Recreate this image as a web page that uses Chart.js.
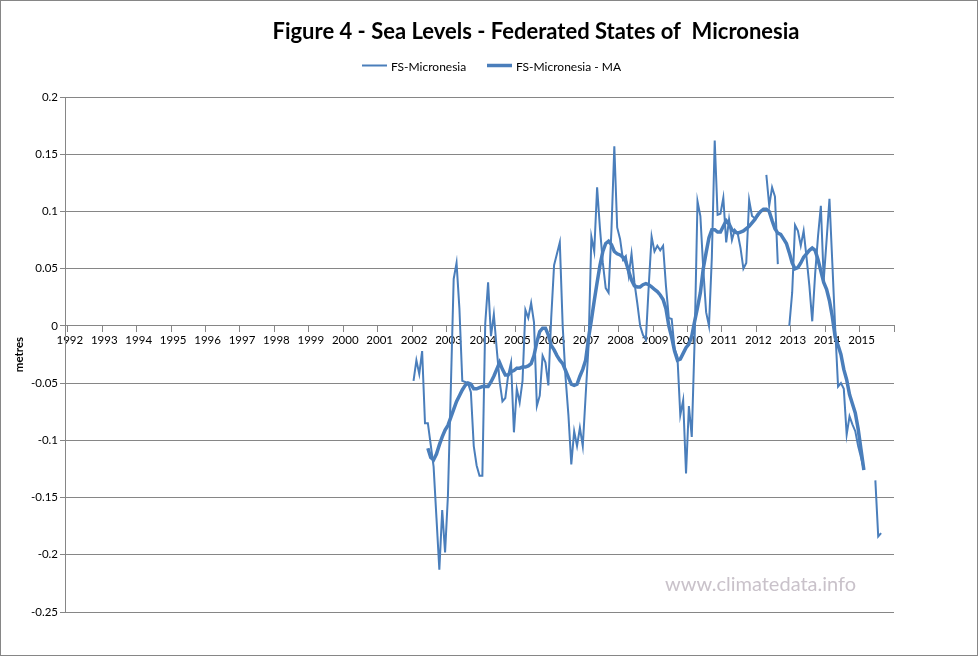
<!DOCTYPE html>
<html>
<head>
<meta charset="utf-8">
<script src="https://cdn.jsdelivr.net/npm/chart.js@4.4.0/dist/chart.umd.min.js"></script>
<style>
  body { margin: 0; background: #fff; }
  canvas { display: block; }
</style>
</head>
<body>
<canvas id="seaLevelChart" width="978" height="656"></canvas>
<script>
/* Monthly sea level (metres), first value = January 2002, null = no data */
const startYear = 2002;

const seaLevel = [
  -0.048, -0.030, -0.042, -0.022, -0.085, -0.085, -0.104, -0.123, -0.168, -0.213, -0.161, -0.198,
  -0.148, -0.055, 0.041, 0.055, 0.015, -0.048, -0.049, -0.050, -0.058, -0.105, -0.122, -0.131,
  -0.131, 0.002, 0.038, -0.009, 0.010, -0.020, -0.048, -0.066, -0.063, -0.043, -0.032, -0.093,
  -0.055, -0.067, -0.048, 0.014, 0.007, 0.020, 0.003, -0.070, -0.061, -0.026, -0.032, -0.052,
  0.007, 0.053, 0.063, 0.073, 0.000, -0.045, -0.078, -0.121, -0.092, -0.105, -0.089, -0.105,
  -0.061, -0.018, 0.078, 0.065, 0.121, 0.085, 0.055, 0.033, 0.029, 0.084, 0.157, 0.086,
  0.076, 0.058, 0.061, 0.044, 0.063, 0.038, 0.020, 0.000, -0.008, -0.012, 0.035, 0.078,
  0.065, 0.070, 0.066, 0.070, 0.035, 0.007, 0.006, -0.020, -0.027, -0.078, -0.065, -0.129,
  -0.070, -0.097, -0.012, 0.109, 0.096, 0.050, 0.012, 0.000, 0.060, 0.162, 0.097, 0.098,
  0.112, 0.073, 0.093, 0.075, 0.084, 0.081, 0.068, 0.050, 0.055, 0.110, 0.096, 0.094,
  0.096, 0.100, null, 0.132, 0.105, 0.121, 0.113, 0.054, null, null, null, 0.000,
  0.029, 0.088, 0.083, 0.070, 0.083, 0.060, 0.035, 0.004, 0.045, 0.078, 0.105, 0.040,
  0.075, 0.111, 0.055, -0.002, -0.053, -0.050, -0.055, -0.095, -0.079, -0.086, -0.092, -0.105,
  -0.115, -0.126, null, null, null, -0.135, -0.184, -0.181
];

/* Moving average, same months */
const seaLevelMA = [
  null, null, null, null, null, -0.107, -0.115, -0.117, -0.112, -0.104, -0.097, -0.091,
  -0.087, -0.080, -0.073, -0.066, -0.061, -0.056, -0.052, -0.050, -0.051, -0.055, -0.055, -0.054,
  -0.053, -0.053, -0.053, -0.049, -0.044, -0.038, -0.032, -0.038, -0.043, -0.043, -0.040, -0.039,
  -0.037, -0.037, -0.036, -0.036, -0.035, -0.033, -0.026, -0.014, -0.005, -0.002, -0.002, -0.008,
  -0.017, -0.021, -0.026, -0.030, -0.033, -0.039, -0.045, -0.051, -0.052, -0.051, -0.044, -0.038,
  -0.030, -0.011, 0.005, 0.022, 0.038, 0.053, 0.065, 0.072, 0.074, 0.071, 0.065, 0.063,
  0.062, 0.060, 0.056, 0.048, 0.040, 0.035, 0.034, 0.034, 0.036, 0.037, 0.036, 0.034,
  0.032, 0.030, 0.027, 0.023, 0.015, 0.000, -0.010, -0.022, -0.030, -0.029, -0.024, -0.019,
  -0.016, -0.009, 0.004, 0.016, 0.029, 0.050, 0.064, 0.077, 0.084, 0.084, 0.082, 0.082,
  0.087, 0.092, 0.089, 0.084, 0.082, 0.081, 0.082, 0.083, 0.085, 0.087, 0.090, 0.093,
  0.097, 0.100, 0.102, 0.102, 0.100, 0.092, 0.085, 0.081, 0.080, 0.076, 0.072, 0.064,
  0.055, 0.050, 0.051, 0.055, 0.060, 0.063, 0.066, 0.068, 0.066, 0.058, 0.048, 0.038,
  0.032, 0.022, 0.008, -0.010, -0.017, -0.025, -0.038, -0.047, -0.060, -0.068, -0.076, -0.090,
  -0.108, -0.126, null, null, null, null, null, null
];

const yearLabels = [1992, 1993, 1994, 1995, 1996, 1997, 1998, 1999, 2000, 2001, 2002, 2003,
  2004, 2005, 2006, 2007, 2008, 2009, 2010, 2011, 2012, 2013, 2014, 2015];
const axisStart = 1991 + 11 / 12;   // axis opens one month before 1992
const axisEnd = 2016;

const titleText = 'Figure 4 - Sea Levels - Federated States of  Micronesia';
const watermark = 'www.climatedata.info';

const lineColor = '#4a7ebb';
const gridColor = '#868686';
const fontName = 'Lato, "Open Sans", sans-serif';

/* month index -> decimal year, point sits in the middle of its month */
const toPoints = (values) => values.map((v, i) => ({ x: startYear + (i + 0.5) / 12, y: v }));

/* Title, legend, watermark and outer frame */
const decorations = {
  id: 'decorations',
  afterDraw(chart) {
    const ctx = chart.ctx;
    ctx.save();

    ctx.fillStyle = '#000';
    ctx.font = 'bold 22px ' + fontName;
    ctx.textAlign = 'center';
    ctx.textBaseline = 'alphabetic';
    ctx.fillText(titleText, 536, 39);

    const legendX = [362, 487];
    ctx.font = '12px ' + fontName;
    ctx.textAlign = 'left';
    chart.data.datasets.forEach((ds, i) => {
      ctx.strokeStyle = ds.borderColor;
      ctx.lineWidth = ds.borderWidth;
      ctx.beginPath();
      ctx.moveTo(legendX[i], 65.5);
      ctx.lineTo(legendX[i] + 25, 65.5);
      ctx.stroke();
      ctx.fillStyle = '#000';
      ctx.fillText(ds.label, legendX[i] + 29, 71);
    });

    ctx.fillStyle = '#c9c2ca';
    ctx.font = '20px ' + fontName;
    ctx.fillText(watermark, 665, 591);

    ctx.strokeStyle = gridColor;
    ctx.lineWidth = 1;
    ctx.strokeRect(0.5, 0.5, chart.width - 1, chart.height - 1);
    ctx.restore();
  }
};

const ctxSea = document.getElementById('seaLevelChart').getContext('2d');
const seaChart = new Chart(ctxSea, {
  type: 'line',
  data: {
    datasets: [
      {
        label: 'FS-Micronesia',
        data: toPoints(seaLevel),
        borderColor: lineColor,
        borderWidth: 2,
        pointRadius: 0,
        tension: 0,
        spanGaps: false,
      },
      {
        label: 'FS-Micronesia - MA',
        data: toPoints(seaLevelMA),
        borderColor: lineColor,
        borderWidth: 3.5,
        pointRadius: 0,
        tension: 0,
        spanGaps: false,
      },
    ],
  },
  options: {
    responsive: false,
    animation: false,
    devicePixelRatio: 1,
    layout: { padding: { top: 97, left: 0, right: 84, bottom: 44 } },
    plugins: {
      legend: { display: false },
      title: { display: false },
      tooltip: { enabled: false },
    },
    scales: {
      x: {
        type: 'linear',
        position: { y: 0 },
        min: axisStart,
        max: axisEnd,
        afterBuildTicks: (scale) => {
          scale.ticks = yearLabels.concat([axisEnd]).map((v) => ({ value: v }));
        },
        afterFit: (scale) => { scale.height = 0; },
        grid: { drawOnChartArea: false, drawTicks: true, tickLength: 6, color: gridColor },
        border: { color: gridColor },
        ticks: {
          autoSkip: false,
          maxRotation: 0,
          padding: 2,
          labelOffset: 2,
          color: '#000',
          font: { family: fontName, size: 11.5 },
          callback: (v) => (v === axisEnd ? '' : String(v)),
        },
      },
      y: {
        min: -0.25,
        max: 0.2,
        afterFit: (scale) => { scale.width = 65; },
        grid: { color: gridColor, tickLength: 5 },
        border: { color: gridColor },
        ticks: {
          stepSize: 0.05,
          padding: 2,
          color: '#000',
          font: { family: fontName, size: 11.5 },
          callback: (v) => String(parseFloat(v.toFixed(2))),
        },
        title: {
          display: true,
          text: 'metres',
          color: '#000',
          padding: { top: 12 },
          font: { family: fontName, size: 11.5, weight: 'bold' },
        },
      },
    },
  },
  plugins: [decorations],
});
</script>
</body>
</html>
